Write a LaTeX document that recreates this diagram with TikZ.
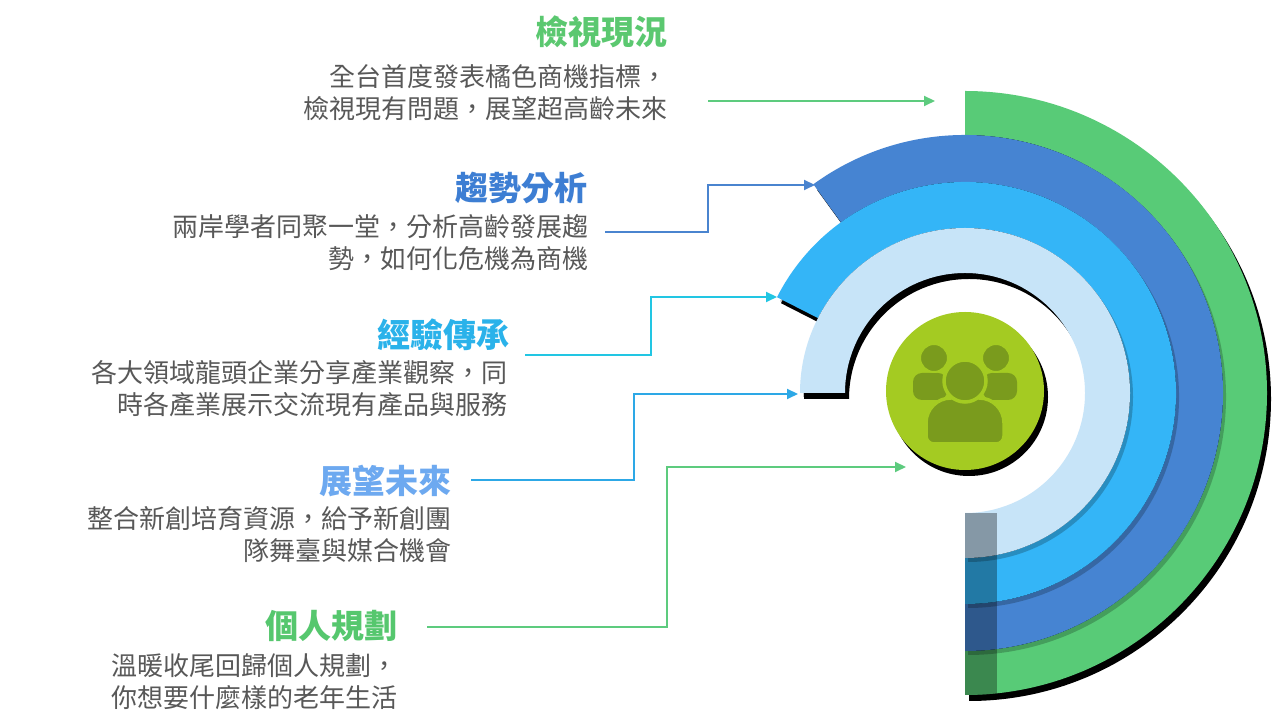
\documentclass[tikz,border=0pt]{standalone}
\usepackage{fontspec}
\newfontfamily\cjk{Noto Sans CJK TC}
\usetikzlibrary{arrows.meta}
\definecolor{gband}{HTML}{58CB77}
\definecolor{dband}{HTML}{4684D2}
\definecolor{mband}{HTML}{34B5F7}
\definecolor{pband}{HTML}{C7E4F8}
\definecolor{circcol}{HTML}{A4CB22}
\definecolor{iconcol}{HTML}{7A9B1D}
\definecolor{bodygray}{HTML}{585858}
\definecolor{ca}{HTML}{5DCB7E}
\definecolor{cb}{HTML}{4A84CF}
\definecolor{cc}{HTML}{22C6E3}
\definecolor{cd}{HTML}{2DA8E6}
\definecolor{ce}{HTML}{5DCB7E}
\definecolor{ta}{HTML}{5BC870}
\definecolor{tb}{HTML}{3D7ED3}
\definecolor{tc}{HTML}{2AB2EA}
\definecolor{td}{HTML}{6DA9F0}
\definecolor{te}{HTML}{56C76E}
\newcommand{\ringband}[3]{(#1:#3) arc[start angle=#1, end angle=-90, radius=#3] -- (-90:#2) arc[start angle=-90, end angle=#1, radius=#2] -- cycle}
\begin{document}
\begin{tikzpicture}[x=1pt,y=1pt,
  titlebox/.style={font=\cjk\bfseries\fontsize{33}{38}\selectfont, anchor=east, inner sep=0pt},
  bodybox/.style={font=\cjk\fontsize{26}{32}\selectfont, text=bodygray, anchor=east, align=right, inner sep=0pt},
  conn/.style={line width=2pt, -{Triangle[length=11pt,width=10pt]}},
]
\fill[white] (0,0) rectangle (1280,728);
\useasboundingbox (0,0) rectangle (1280,728);

% hard shadows
\begin{scope}[shift={(969,329)}]
  \fill[black] \ringband{90}{258}{302};
  \fill[black] \ringband{126}{211}{258};
  \fill[black] \ringband{153}{165}{211};
  \fill[black] \ringband{180}{120}{165};
\end{scope}

% bands
\begin{scope}[shift={(965,335)}]
  \fill[gband] \ringband{90}{258}{302};
  \begin{scope}[shift={(3,-4)}]\fill[black,opacity=0.22] \ringband{126}{211}{258};\end{scope}
  \fill[dband] \ringband{126}{211}{258};
  \begin{scope}[shift={(3,-4)}]\fill[black,opacity=0.22] \ringband{153}{165}{211};\end{scope}
  \fill[mband] \ringband{153}{165}{211};
  \begin{scope}[shift={(3,-4)}]\fill[black,opacity=0.22] \ringband{180}{120}{165};\end{scope}
  \fill[pband] \ringband{180}{120}{165};
  \begin{scope}
    \clip (0,0) circle (302);
    \fill[black,opacity=0.33] (0,-120) rectangle (32,-305);
  \end{scope}
\end{scope}

% centre circle
\fill[black] (969,331) circle (79);
\fill[circcol] (965,337) circle (79);
\begin{scope}[shift={(965,337)}]
  \fill[iconcol,rounded corners=9pt] (-52,-9) rectangle (-18,18);
  \fill[iconcol,rounded corners=9pt] (18,-9) rectangle (52,18);
  \fill[iconcol,draw=circcol,line width=2pt] (-31,33) circle (14);
  \fill[iconcol,draw=circcol,line width=2pt] (31,33) circle (14);
  \fill[iconcol,draw=circcol,line width=3.5pt] (-39,-32) arc[start angle=180,end angle=90,radius=25] -- (14,-7) arc[start angle=90,end angle=0,radius=25] -- (39,-45) arc[start angle=0,end angle=-90,radius=8] -- (-31,-53) arc[start angle=270,end angle=180,radius=8] -- cycle;
  \fill[iconcol,draw=circcol,line width=3.5pt] (0,10) circle (21);
\end{scope}

% texts
\node[titlebox,text=ta] (t1) at (668,696) {檢視現況};
\node[bodybox] (b1) at (668,635.5) {全台首度發表橘色商機指標，\\檢視現有問題，展望超高齡未來};
\node[titlebox,text=tb] (t2) at (588,539.5) {趨勢分析};
\node[bodybox] (b2) at (589,485.5) {兩岸學者同聚一堂，分析高齡發展趨\\勢，如何化危機為商機};
\node[titlebox,text=tc] (t3) at (510,393) {經驗傳承};
\node[bodybox] (b3) at (508,339) {各大領域龍頭企業分享產業觀察，同\\時各產業展示交流現有產品與服務};
\node[titlebox,text=td] (t4) at (452,247) {展望未來};
\node[bodybox] (b4) at (452,193) {整合新創培育資源，給予新創團\\隊舞臺與媒合機會};
\node[titlebox,text=te] (t5) at (398,102) {個人規劃};
\node[bodybox] (b5) at (398,46) {溫暖收尾回歸個人規劃，\\你想要什麼樣的老年生活};

% connectors
\coordinate (s1) at (708,627); \coordinate (e1) at (935,627);
\coordinate (s2) at (605,496); \coordinate (k2) at (708,543); \coordinate (e2) at (815,543);
\coordinate (s3) at (525,373); \coordinate (k3) at (651,431); \coordinate (e3) at (777,431);
\coordinate (s4) at (471,248); \coordinate (k4) at (634,334); \coordinate (e4) at (798,334);
\coordinate (s5) at (427,101); \coordinate (k5) at (667,261); \coordinate (e5) at (906,261);
\draw[conn,ca] (s1) -- (e1);
\draw[conn,cb] (s2) -| (k2) -- (e2);
\draw[conn,cc] (s3) -| (k3) -- (e3);
\draw[conn,cd] (s4) -| (k4) -- (e4);
\draw[conn,ce] (s5) -| (k5) -- (e5);
\end{tikzpicture}
\end{document}
